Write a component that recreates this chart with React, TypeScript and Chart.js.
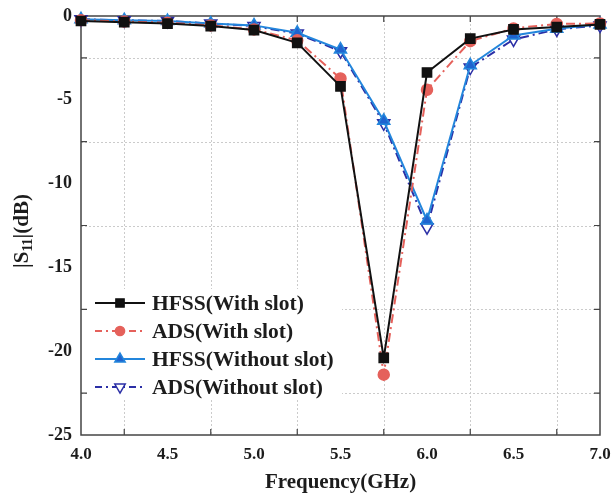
import React, { useEffect, useRef } from 'react';
import { Chart, registerables } from 'chart.js';

Chart.register(...registerables);

// ---- data ----
const freqs = [4.0, 4.25, 4.5, 4.75, 5.0, 5.25, 5.5, 5.75, 6.0, 6.25, 6.5, 6.75, 7.0];
const hfssWithSlot = [-0.3, -0.37, -0.45, -0.6, -0.84, -1.6, -4.2, -20.4, -3.37, -1.35, -0.8, -0.66, -0.5];
const adsWithSlot = [-0.25, -0.33, -0.4, -0.56, -0.8, -1.45, -3.73, -21.4, -4.4, -1.5, -0.74, -0.47, -0.45];
const hfssWithoutSlot = [-0.2, -0.25, -0.3, -0.45, -0.56, -1.0, -2.0, -6.25, -12.2, -2.94, -1.16, -0.76, -0.5];
const adsWithoutSlot = [-0.2, -0.25, -0.3, -0.45, -0.6, -1.05, -2.1, -6.4, -12.6, -3.08, -1.4, -0.8, -0.56];

const seriesNames = ['HFSS(With slot)', 'ADS(With slot)', 'HFSS(Without slot)', 'ADS(Without slot)'];
const xLabelValues = [4.0, 4.5, 5.0, 5.5, 6.0, 6.5, 7.0];
const yLabelValues = [0, -5, -10, -15, -20, -25];
const gridX = [4.25, 4.75, 5.25, 5.75, 6.25, 6.75];
const gridY = [-2.5, -7.5, -12.5, -17.5, -22.5];

const SERIF = '"Liberation Serif", "Times New Roman", serif';
const TEXT = '#1c1c1c';

type Style = {
  color: string;
  dash: number[];
  point: string;
  rot: number;
  fill: string;
  radius: number;
  legendRadius: number;
};
const styles: Style[] = [
  { color: '#111111', dash: [], point: 'rect', rot: 0, fill: '#111111', radius: 6.5, legendRadius: 5.8 },
  { color: '#e5615b', dash: [9, 4, 2, 4], point: 'circle', rot: 0, fill: '#e5615b', radius: 5.5, legendRadius: 4.6 },
  { color: '#2386dc', dash: [], point: 'triangle', rot: 0, fill: '#1f63cf', radius: 7, legendRadius: 6 },
  { color: '#2b2fa6', dash: [9, 4, 2, 4], point: 'triangle', rot: 180, fill: '#ffffff', radius: 7, legendRadius: 6 },
];

function drawMarker(ctx: CanvasRenderingContext2D, s: Style, x: number, y: number, r: number) {
  ctx.save();
  ctx.setLineDash([]);
  ctx.fillStyle = s.fill;
  ctx.strokeStyle = s.color;
  ctx.lineWidth = 1.5;
  ctx.beginPath();
  if (s.point === 'rect') {
    const h = r * Math.SQRT1_2;
    ctx.rect(x - h, y - h, 2 * h, 2 * h);
  } else if (s.point === 'circle') {
    ctx.arc(x, y, r, 0, Math.PI * 2);
  } else {
    const dir = s.rot === 180 ? -1 : 1;
    ctx.moveTo(x, y - dir * r);
    ctx.lineTo(x + r * Math.sin(Math.PI / 3), y + dir * r * 0.5);
    ctx.lineTo(x - r * Math.sin(Math.PI / 3), y + dir * r * 0.5);
    ctx.closePath();
  }
  ctx.fill();
  ctx.stroke();
  ctx.restore();
}

const decorPlugin = {
  id: 'decor',
  beforeDatasetsDraw(chart: any) {
    const { ctx, chartArea: a, scales } = chart;
    const xs = scales.x;
    const ys = scales.y;
    ctx.save();
    // dotted grid
    ctx.strokeStyle = '#cbcbcb';
    ctx.lineWidth = 1;
    ctx.setLineDash([2, 2]);
    gridX.forEach((v) => {
      const px = Math.round(xs.getPixelForValue(v)) + 0.5;
      ctx.beginPath();
      ctx.moveTo(px, a.top);
      ctx.lineTo(px, a.bottom);
      ctx.stroke();
    });
    gridY.forEach((v) => {
      const py = Math.round(ys.getPixelForValue(v)) + 0.5;
      ctx.beginPath();
      ctx.moveTo(a.left, py);
      ctx.lineTo(a.right, py);
      ctx.stroke();
    });
    // frame
    ctx.setLineDash([]);
    ctx.strokeStyle = '#444444';
    ctx.lineWidth = 1.5;
    ctx.strokeRect(a.left, a.top, a.right - a.left, a.bottom - a.top);
    // inward ticks
    const tl = 6;
    ctx.lineWidth = 1.2;
    gridX.forEach((v) => {
      const px = xs.getPixelForValue(v);
      ctx.beginPath();
      ctx.moveTo(px, a.bottom);
      ctx.lineTo(px, a.bottom - tl);
      ctx.moveTo(px, a.top);
      ctx.lineTo(px, a.top + tl);
      ctx.stroke();
    });
    gridY.forEach((v) => {
      const py = ys.getPixelForValue(v);
      ctx.beginPath();
      ctx.moveTo(a.left, py);
      ctx.lineTo(a.left + tl, py);
      ctx.moveTo(a.right, py);
      ctx.lineTo(a.right - tl, py);
      ctx.stroke();
    });
    ctx.restore();
  },
  afterDraw(chart: any) {
    const { ctx, chartArea: a } = chart;
    ctx.save();
    // x title
    ctx.fillStyle = TEXT;
    ctx.font = `bold 21px ${SERIF}`;
    ctx.textAlign = 'center';
    ctx.textBaseline = 'middle';
    ctx.fillText('Frequency(GHz)', (a.left + a.right) / 2, 483);

    // y title with subscript
    ctx.save();
    ctx.translate(23, 231);
    ctx.rotate(-Math.PI / 2);
    const big = `bold 21px ${SERIF}`;
    const small = `bold 14px ${SERIF}`;
    const parts = [
      { t: '|S', f: big, dy: 0 },
      { t: '11', f: small, dy: 5 },
      { t: '|(dB)', f: big, dy: 0 },
    ];
    let total = 0;
    parts.forEach((p) => {
      ctx.font = p.f;
      total += ctx.measureText(p.t).width;
    });
    let x0 = -total / 2;
    ctx.textAlign = 'left';
    parts.forEach((p) => {
      ctx.font = p.f;
      ctx.fillText(p.t, x0, p.dy);
      x0 += ctx.measureText(p.t).width;
    });
    ctx.restore();

    // legend
    ctx.fillStyle = '#ffffff';
    ctx.fillRect(88, 289, 254, 110);
    const rows = [303, 331, 359, 387];
    seriesNames.forEach((name, i) => {
      const s = styles[i];
      const y = rows[i];
      ctx.save();
      ctx.strokeStyle = s.color;
      ctx.lineWidth = 2;
      ctx.setLineDash(s.dash.length ? [7, 4, 2, 4] : []);
      ctx.beginPath();
      ctx.moveTo(95, y);
      ctx.lineTo(145, y);
      ctx.stroke();
      ctx.restore();
      drawMarker(ctx, s, 120, y, s.legendRadius);
      ctx.fillStyle = TEXT;
      ctx.font = `bold 21.5px ${SERIF}`;
      ctx.textAlign = 'left';
      ctx.textBaseline = 'middle';
      ctx.fillText(name, 152, y + 1);
    });
    ctx.restore();
  },
};

export default function App() {
  const ref = useRef<HTMLCanvasElement>(null);
  useEffect(() => {
    if (!ref.current) return;
    const series = [hfssWithSlot, adsWithSlot, hfssWithoutSlot, adsWithoutSlot];
    const chart = new Chart(ref.current, {
      type: 'line',
      data: {
        datasets: series.map((vals, i) => ({
          label: seriesNames[i],
          data: freqs.map((f, j) => ({ x: f, y: vals[j] })),
          borderColor: styles[i].color,
          backgroundColor: styles[i].fill,
          borderWidth: 2,
          borderDash: styles[i].dash,
          pointStyle: styles[i].point as any,
          pointRotation: styles[i].rot,
          pointRadius: styles[i].radius,
          pointBackgroundColor: styles[i].fill,
          pointBorderColor: styles[i].color,
          pointBorderWidth: 1.5,
          tension: 0,
          clip: false as any,
        })),
      },
      options: {
        animation: false,
        responsive: false,
        layout: { padding: { left: 0, right: 13, top: 16, bottom: 0 } },
        plugins: { legend: { display: false }, tooltip: { enabled: false } },
        scales: {
          x: {
            type: 'linear',
            min: 4,
            max: 7,
            afterBuildTicks: (s: any) => {
              s.ticks = xLabelValues.map((v) => ({ value: v }));
            },
            afterFit: (s: any) => {
              s.height = 66;
              s.paddingLeft = 0;
              s.paddingRight = 0;
            },
            grid: { display: false, drawTicks: false },
            border: { display: false },
            ticks: {
              autoSkip: false,
              maxRotation: 0,
              padding: 9,
              color: TEXT,
              font: { family: SERIF, size: 17, weight: 'bold' },
              callback: (v: any) => Number(v).toFixed(1),
            },
          },
          y: {
            type: 'linear',
            min: -25,
            max: 0,
            afterBuildTicks: (s: any) => {
              s.ticks = yLabelValues.map((v) => ({ value: v }));
            },
            afterFit: (s: any) => {
              s.width = 81;
              s.paddingTop = 0;
              s.paddingBottom = 0;
            },
            grid: { display: false, drawTicks: false },
            border: { display: false },
            ticks: {
              autoSkip: false,
              padding: 9,
              color: TEXT,
              font: { family: SERIF, size: 18, weight: 'bold' },
              callback: (v: any) => String(v),
            },
          },
        },
      },
      plugins: [decorPlugin],
    } as any);
    return () => chart.destroy();
  }, []);
  return (
    <div style={{ position: 'absolute', left: 0, top: 0, width: 613, height: 501, background: '#fff' }}>
      <canvas ref={ref} width={613} height={501} style={{ display: 'block' }} />
    </div>
  );
}
